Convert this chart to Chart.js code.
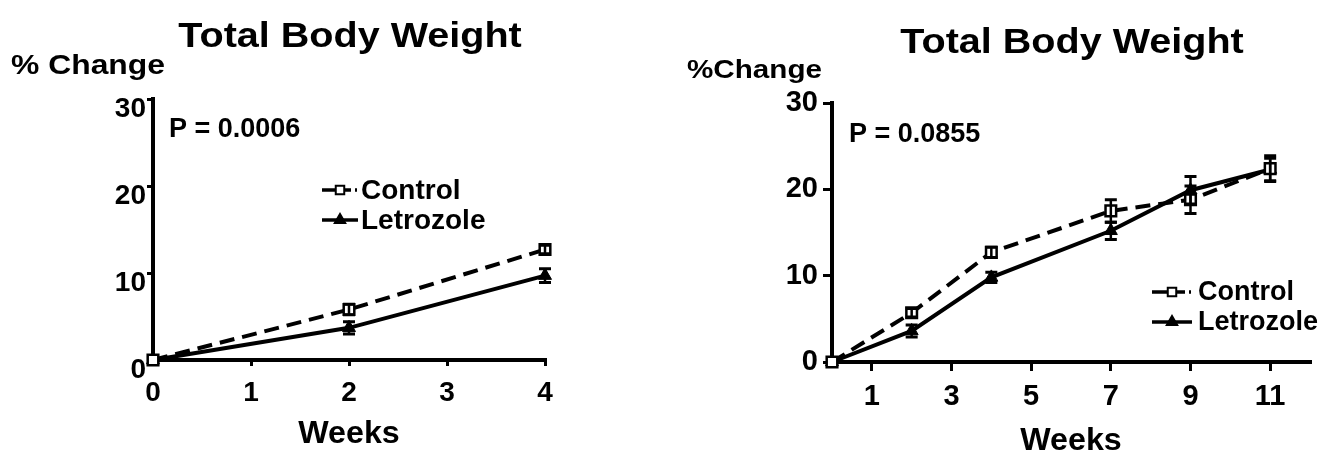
<!DOCTYPE html>
<html lang="en">
<head>
    <meta charset="UTF-8">
    <title>Total Body Weight</title>
    <script src="https://cdn.jsdelivr.net/npm/chart.js"></script>
    <style>
        body {
            margin: 0;
            padding: 0;
            background: #fff;
            width: 1320px;
            height: 453px;
            overflow: hidden;
            position: relative;
        }
        .panel {
            position: absolute;
            top: 0;
            width: 660px;
            height: 453px;
        }
        #leftPanel { left: 0; }
        #rightPanel { left: 660px; }
    </style>
</head>
<body>
    <div class="panel" id="leftPanel"><canvas id="shortChart" width="660" height="453"></canvas></div>
    <div class="panel" id="rightPanel"><canvas id="longChart" width="660" height="453"></canvas></div>
    <script>
        // 4 week study (% change from baseline, mean and SEM)
        const shortWeeks = [0, 2, 4];
        const shortControl = [0, 5.8, 12.7];
        const shortControlSem = [0, 0.6, 0.5];
        const shortLetrozole = [0, 3.7, 9.7];
        const shortLetrozoleSem = [0, 0.7, 0.8];
        const shortTicks = [0, 1, 2, 3, 4];

        // 11 week study
        const longWeeks = [0, 2, 4, 7, 9, 11];
        const longControl = [0, 5.7, 12.7, 17.5, 18.8, 22.4];
        const longControlSem = [0, 0.5, 0.6, 1.3, 1.6, 1.5];
        const longLetrozole = [0, 3.6, 9.8, 15.2, 19.9, 22.3];
        const longLetrozoleSem = [0, 0.7, 0.6, 1.0, 1.6, 1.3];
        const longTicks = [1, 3, 5, 7, 9, 11];

        const yTicks = [0, 10, 20, 30];

        const FONT = '"Liberation Sans", Arial, sans-serif';

        function toPoints(xs, ys) {
            return xs.map((x, i) => ({ x: x, y: ys[i] }));
        }

        function seriesSets(weeks, control, controlSem, letrozole, letrozoleSem) {
            return [
                {
                    label: 'Control',
                    data: toPoints(weeks, control),
                    errors: controlSem,
                    borderColor: '#000',
                    borderWidth: 4,
                    borderDash: [15, 8],
                    pointStyle: 'rect',
                    pointRadius: 7.5,
                    pointBorderWidth: 2.5,
                    pointBackgroundColor: '#fff',
                    pointBorderColor: '#000',
                    clip: false
                },
                {
                    label: 'Letrozole',
                    data: toPoints(weeks, letrozole),
                    errors: letrozoleSem,
                    borderColor: '#000',
                    borderWidth: 4,
                    pointStyle: 'triangle',
                    pointRadius: 7.5,
                    pointBorderWidth: 1,
                    pointBackgroundColor: '#000',
                    pointBorderColor: '#000',
                    clip: false
                }
            ];
        }

        // mean +/- SEM bars with caps
        const errorBars = {
            id: 'errorBars',
            afterDatasetsDraw(chart) {
                const ctx = chart.ctx;
                const yScale = chart.scales.y;
                ctx.save();
                ctx.strokeStyle = '#000';
                chart.data.datasets.forEach((ds, di) => {
                    const meta = chart.getDatasetMeta(di);
                    meta.data.forEach((pt, i) => {
                        const e = ds.errors[i];
                        if (!e) return;
                        const v = ds.data[i].y;
                        const top = yScale.getPixelForValue(v + e);
                        const bot = yScale.getPixelForValue(v - e);
                        ctx.lineWidth = 2.5;
                        ctx.beginPath();
                        ctx.moveTo(pt.x, top);
                        ctx.lineTo(pt.x, bot);
                        ctx.stroke();
                        ctx.lineWidth = 3;
                        ctx.beginPath();
                        ctx.moveTo(pt.x - 6, top);
                        ctx.lineTo(pt.x + 6, top);
                        ctx.moveTo(pt.x - 6, bot);
                        ctx.lineTo(pt.x + 6, bot);
                        ctx.stroke();
                    });
                });
                ctx.restore();
            }
        };

        // bold text, optionally widened horizontally
        function drawText(ctx, text, x, y, size, align, stretch) {
            ctx.save();
            ctx.font = 'bold ' + size + 'px ' + FONT;
            ctx.textAlign = align;
            ctx.translate(x, y);
            ctx.scale(stretch || 1, 1);
            ctx.fillText(text, 0, 0);
            ctx.restore();
        }

        // titles, axis captions, p value and the line-sample legend
        const annotate = {
            id: 'annotate',
            afterDraw(chart, args, opts) {
                const ctx = chart.ctx;
                const area = chart.chartArea;
                ctx.save();
                ctx.fillStyle = '#000';
                ctx.textBaseline = 'alphabetic';

                drawText(ctx, 'Total Body Weight', opts.titleX, opts.titleY, 35, 'center', 1.13);
                drawText(ctx, opts.yTitle, opts.yTitleX, opts.yTitleY, opts.yTitleSize, 'left', opts.yTitleStretch);
                drawText(ctx, opts.pValue, opts.pX, opts.pY, 27, 'left', 1);
                drawText(ctx, 'Weeks', (area.left + area.right) / 2, opts.weeksY, 31, 'center', 1.04);

                // legend rows
                const len = opts.legendLen;
                chart.data.datasets.forEach((ds, i) => {
                    const y = opts.legendY + i * opts.legendGap;
                    const x0 = opts.legendX;
                    const x1 = x0 + len;
                    ctx.strokeStyle = '#000';
                    ctx.lineWidth = 3.5;
                    ctx.setLineDash(ds.borderDash ? [len - 7, 4, 2, 40] : []);
                    ctx.beginPath();
                    ctx.moveTo(x0, y);
                    ctx.lineTo(x1, y);
                    ctx.stroke();
                    ctx.setLineDash([]);
                    ctx.fillStyle = ds.pointBackgroundColor;
                    ctx.lineWidth = 2;
                    Chart.helpers.drawPoint(ctx, {
                        pointStyle: ds.pointStyle,
                        rotation: 0,
                        radius: 6,
                        borderWidth: 2
                    }, x0 + len * 0.5, y);
                    ctx.fillStyle = '#000';
                    ctx.textBaseline = 'middle';
                    drawText(ctx, ds.label, x1 + opts.legendTextGap, y + 1, opts.legendSize, 'left', 1);
                    ctx.textBaseline = 'alphabetic';
                });
                ctx.restore();
            }
        };

        function axisOptions(cfg) {
            return {
                x: {
                    type: 'linear',
                    min: cfg.xMin,
                    max: cfg.xMax,
                    afterBuildTicks: (scale) => {
                        scale.ticks = cfg.xTicks.map(v => ({ value: v }));
                    },
                    afterFit: (scale) => { scale.height = cfg.xHeight; },
                    border: { display: true, color: '#000', width: 4 },
                    grid: {
                        drawOnChartArea: false,
                        drawTicks: true,
                        tickLength: cfg.tickLength,
                        color: '#000',
                        lineWidth: 3
                    },
                    ticks: {
                        color: '#000',
                        padding: cfg.xPad,
                        maxRotation: 0,
                        autoSkip: false,
                        font: { family: FONT, size: cfg.tickSize, weight: 'bold' }
                    }
                },
                y: {
                    type: 'linear',
                    min: 0,
                    max: 30,
                    afterBuildTicks: (scale) => {
                        scale.ticks = yTicks.map(v => ({ value: v }));
                    },
                    afterFit: (scale) => { scale.width = cfg.yWidth; },
                    border: { display: true, color: '#000', width: 4 },
                    grid: {
                        drawOnChartArea: false,
                        drawTicks: true,
                        tickLength: cfg.tickLength,
                        color: '#000',
                        lineWidth: 3
                    },
                    ticks: {
                        color: '#000',
                        padding: cfg.yPad,
                        labelOffset: cfg.yLabelOffset,
                        font: { family: FONT, size: cfg.tickSize, weight: 'bold' }
                    }
                }
            };
        }

        const shortChart = new Chart(document.getElementById('shortChart').getContext('2d'), {
            type: 'line',
            data: {
                datasets: seriesSets(shortWeeks, shortControl, shortControlSem, shortLetrozole, shortLetrozoleSem)
            },
            options: {
                responsive: false,
                animation: false,
                layout: { padding: { left: 0, top: 99, right: 115, bottom: 0 } },
                scales: axisOptions({
                    xMin: 0, xMax: 4, xTicks: shortTicks,
                    xHeight: 93, yWidth: 153, tickSize: 28,
                    tickLength: 6, xPad: 10, yPad: 1, yLabelOffset: 10
                }),
                plugins: {
                    legend: { display: false },
                    tooltip: { enabled: false },
                    annotate: {
                        titleX: 350, titleY: 47,
                        yTitle: '% Change', yTitleSize: 27, yTitleStretch: 1.18, yTitleX: 11, yTitleY: 74,
                        pValue: 'P = 0.0006', pX: 169, pY: 137,
                        weeksY: 443,
                        legendX: 322, legendLen: 36, legendY: 190, legendGap: 30,
                        legendTextGap: 3, legendSize: 28
                    }
                }
            },
            plugins: [errorBars, annotate]
        });

        const longChart = new Chart(document.getElementById('longChart').getContext('2d'), {
            type: 'line',
            data: {
                datasets: seriesSets(longWeeks, longControl, longControlSem, longLetrozole, longLetrozoleSem)
            },
            options: {
                responsive: false,
                animation: false,
                layout: { padding: { left: 0, top: 103, right: 8, bottom: 0 } },
                scales: axisOptions({
                    xMin: 0, xMax: 12, xTicks: longTicks,
                    xHeight: 91, yWidth: 172, tickSize: 29,
                    tickLength: 9, xPad: 9, yPad: 5, yLabelOffset: 0
                }),
                plugins: {
                    legend: { display: false },
                    tooltip: { enabled: false },
                    annotate: {
                        titleX: 412, titleY: 53,
                        yTitle: '%Change', yTitleSize: 26, yTitleStretch: 1.14, yTitleX: 27, yTitleY: 78,
                        pValue: 'P = 0.0855', pX: 189, pY: 142,
                        weeksY: 450,
                        legendX: 492, legendLen: 40, legendY: 292, legendGap: 30,
                        legendTextGap: 6, legendSize: 27
                    }
                }
            },
            plugins: [errorBars, annotate]
        });
    </script>
</body>
</html>
